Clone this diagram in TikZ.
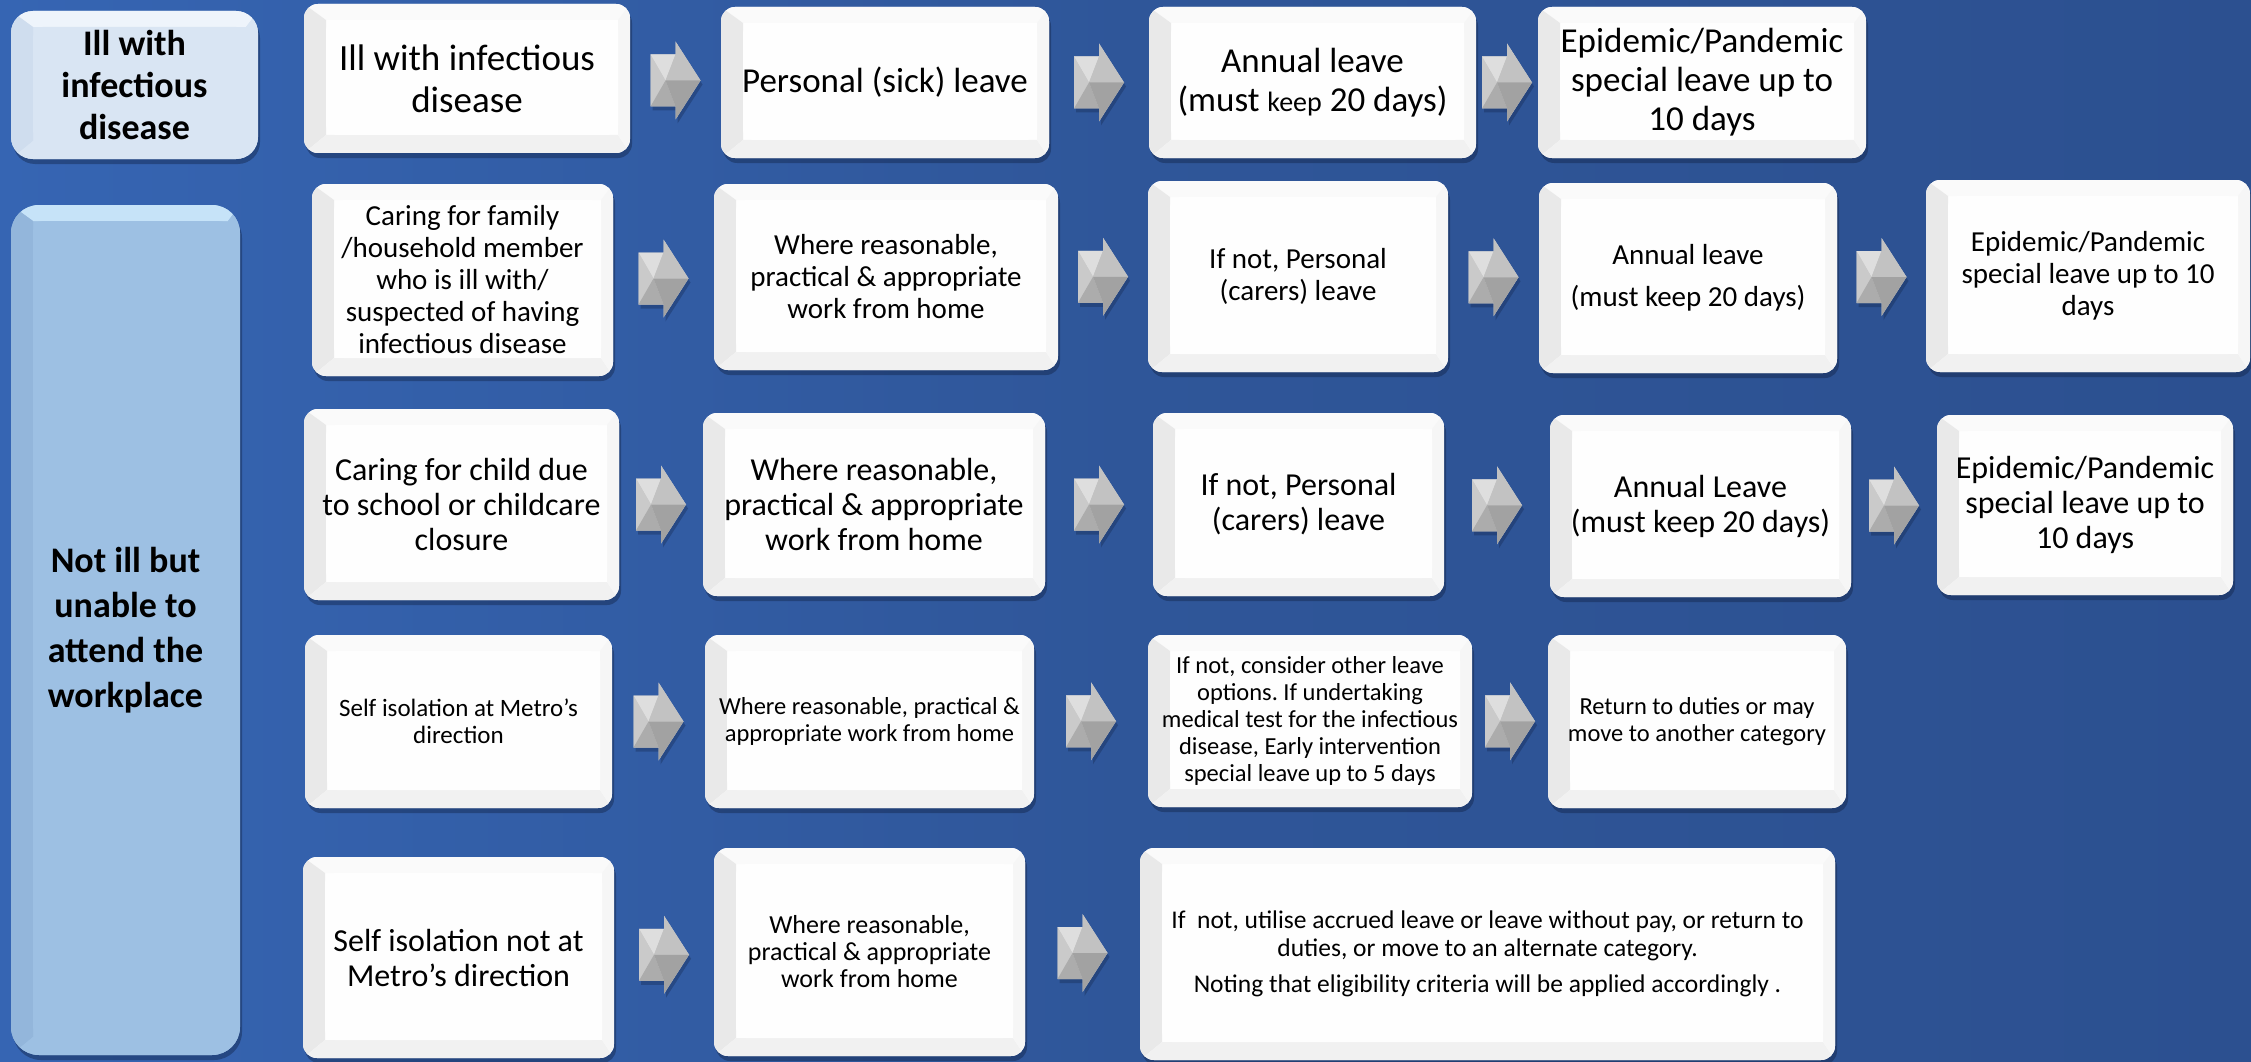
\documentclass[tikz,border=0pt]{standalone}
\usepackage{fontspec}
\setmainfont{Carlito}
\frenchspacing
\usetikzlibrary{shadows,calc}
\definecolor{bgL}{HTML}{3665B3}
\definecolor{bgM}{HTML}{2F5699}
\definecolor{bgR}{HTML}{2C5090}
\definecolor{shadowc}{HTML}{0F1F40}
\definecolor{fTop}{HTML}{FAFAFA}
\definecolor{fLeft}{HTML}{E9E9E9}
\definecolor{fBot}{HTML}{F1F1F1}
\definecolor{fIn}{HTML}{FEFEFE}
\definecolor{lOneIn}{HTML}{D9E5F3}
\definecolor{lOneTop}{HTML}{EEF4FB}
\definecolor{lOneLeft}{HTML}{CFDDEE}
\definecolor{lTwoIn}{HTML}{9DC0E3}
\definecolor{lTwoTop}{HTML}{C6E3F8}
\definecolor{lTwoLeft}{HTML}{93B6DB}
\definecolor{aLight}{HTML}{DEDEDE}
\definecolor{aMid}{HTML}{CACACA}
\definecolor{aMid2}{HTML}{C2C2C2}
\definecolor{aDark}{HTML}{ACACAC}
\definecolor{aDark2}{HTML}{A2A2A2}
\newcommand{\bevel}[4]{%
  \path (path picture bounding box.north west) coordinate (ppNW)
        (path picture bounding box.south east) coordinate (ppSE);
  \path (ppNW -| ppSE) coordinate (ppNE) (ppNW |- ppSE) coordinate (ppSW);
  \path ($(ppNW)+(22pt,-16pt)$) coordinate (iiNW) ($(ppSE)+(-12pt,18pt)$) coordinate (iiSE);
  \path (iiNW -| iiSE) coordinate (iiNE) (iiNW |- iiSE) coordinate (iiSW);
  \fill[sharp corners,#1] (ppNW) -- (ppNE) -- (iiNE) -- (iiNW) -- cycle;
  \fill[sharp corners,#2] (ppNW) -- (iiNW) -- (iiSW) -- (ppSW) -- cycle;
  \fill[sharp corners,#3] (ppSW) -- (iiSW) -- (iiSE) -- (ppSE) -- cycle;
  \fill[sharp corners,#3!60!#4] (ppNE) -- (ppSE) -- (iiSE) -- (iiNE) -- cycle;
  \fill[#4,rounded corners=10pt] (iiNW) rectangle (iiSE);
}
\tikzset{
  box/.style={rounded corners=14pt, fill=fIn, align=center, inner sep=0pt,
    drop shadow={shadow xshift=2pt, shadow yshift=-5pt, opacity=0.4, fill=shadowc},
    path picture={\bevel{fTop}{fLeft}{fBot}{fIn}}},
  labone/.style={rounded corners=22pt, fill=lOneIn, align=center, inner sep=0pt,
    font=\bfseries\fontsize{36}{42}\selectfont,
    drop shadow={shadow xshift=2pt, shadow yshift=-5pt, opacity=0.4, fill=shadowc},
    path picture={\bevel{lOneTop}{lOneLeft}{lOneIn}{lOneIn}}},
  labtwo/.style={rounded corners=28pt, fill=lTwoIn, align=center, inner sep=0pt,
    font=\bfseries\fontsize{36}{45}\selectfont,
    drop shadow={shadow xshift=2pt, shadow yshift=-5pt, opacity=0.4, fill=shadowc},
    path picture={\bevel{lTwoTop}{lTwoLeft}{lTwoIn}{lTwoIn}}},
  garrow/.pic={
    \fill[shadowc,opacity=0.3] (-23,-22) -- (2,-22) -- (2,-35) -- (27,4) -- (2,43) -- (2,30) -- (-23,30) -- cycle;
    \fill[aMid] (-25,-26) -- (0,-26) -- (0,-39) -- (25,0) -- (0,39) -- (0,26) -- (-25,26) -- cycle;
    \fill[aLight] (-25,-26) -- (0,-26) -- (-10,0) -- cycle;
    \fill[aMid] (-25,-26) -- (-10,0) -- (-25,26) -- cycle;
    \fill[aDark] (-25,26) -- (-10,0) -- (0,26) -- cycle;
    \fill[aMid2] (0,-39) -- (25,0) -- (-10,0) -- (0,-26) -- cycle;
    \fill[aDark2] (0,39) -- (25,0) -- (-10,0) -- (0,26) -- cycle;
  },
  fA/.style={font=\fontsize{37}{42}\selectfont},
  fB/.style={font=\fontsize{35}{39}\selectfont},
  fC/.style={font=\fontsize{29}{32}\selectfont},
  fD/.style={font=\fontsize{32}{35}\selectfont},
  fE/.style={font=\fontsize{24.5}{27}\selectfont},
  fF/.style={font=\fontsize{25.5}{28}\selectfont},
}
\begin{document}
\begin{tikzpicture}[x=1pt,y=-1pt]
\shade[left color=bgL, right color=bgR, middle color=bgM] (0,0) rectangle (2251,1062);
\useasboundingbox (0,0) rectangle (2251,1062);

% left labels
\node[labone, minimum width=247pt, minimum height=148pt] (l1) at (134.5,85) {Ill with\\infectious\\disease};
\node[labtwo, minimum width=229pt, minimum height=850pt] (l2) at (125.5,630) {Not ill but\\unable to\\attend the\\workplace};

% row 1
\node[box, fA, minimum width=326pt, minimum height=149pt] (b1a) at (467,78.5) {Ill with infectious\\disease};
\node[box, fB, minimum width=328pt, minimum height=151pt] (b1b) at (885,82.5) {Personal (sick) leave};
\node[box, fB, minimum width=327pt, minimum height=151pt] (b1c) at (1312.5,82.5) {Annual leave\\(must {\fontsize{28}{39}\selectfont keep} 20 days)};
\node[box, fB, minimum width=328pt, minimum height=151pt] (b1d) at (1702,82.5) {Epidemic/Pandemic\\special leave up to\\10 days};

% row 2
\node[box, fC, minimum width=301pt, minimum height=192pt] (b2a) at (462.5,280) {Caring for family\\/household member\\who is ill with/\\suspected of having\\infectious disease};
\node[box, fC, minimum width=344pt, minimum height=186pt] (b2b) at (886,277) {Where reasonable,\\practical \& appropriate\\work from home};
\node[box, fC, minimum width=300pt, minimum height=191pt] (b2c) at (1298,276.5) {If not, Personal\\(carers) leave};
\node[box, fC, minimum width=298pt, minimum height=190pt] (b2d) at (1688,278) {Annual leave\\[10pt](must keep 20 days)};
\node[box, fC, minimum width=324pt, minimum height=192pt] (b2e) at (2088,276) {Epidemic/Pandemic\\special leave up to 10\\days};

% row 3
\node[box, fD, minimum width=315pt, minimum height=191pt] (b3a) at (461.5,504.5) {Caring for child due\\to school or childcare\\closure};
\node[box, fD, minimum width=342pt, minimum height=183pt] (b3b) at (874,504.5) {Where reasonable,\\practical \& appropriate\\work from home};
\node[box, fD, minimum width=291pt, minimum height=183pt] (b3c) at (1298.5,504.5) {If not, Personal\\(carers) leave};
\node[box, fD, minimum width=301pt, minimum height=182pt] (b3d) at (1700.5,506) {Annual Leave\\(must keep 20 days)};
\node[box, fD, minimum width=296pt, minimum height=180pt] (b3e) at (2085,505) {Epidemic/Pandemic\\special leave up to\\10 days};

% row 4
\node[box, font=\fontsize{25}{27}\selectfont, minimum width=307pt, minimum height=173pt] (b4a) at (458.5,721.5) {Self isolation at Metro’s\\direction};
\node[box, fE, minimum width=329pt, minimum height=173pt] (b4b) at (869.5,721.5) {Where reasonable, practical \&\\appropriate work from home};
\node[box, fE, minimum width=324pt, minimum height=172pt] (b4c) at (1310,721) {If not, consider other leave\\options. If undertaking\\medical test for the infectious\\disease, Early intervention\\special leave up to 5 days};
\node[box, fE, minimum width=298pt, minimum height=173pt] (b4d) at (1697,721.5) {Return to duties or may\\move to another category};

% row 5
\node[box, fD, minimum width=311pt, minimum height=201pt] (b5a) at (458.5,957.5) {Self isolation not at\\Metro’s direction};
\node[box, font=\fontsize{26}{27}\selectfont, minimum width=311pt, minimum height=208pt] (b5b) at (869.5,952) {Where reasonable,\\practical \& appropriate\\work from home};
\node[box, fF, minimum width=695pt, minimum height=212pt] (b5c) at (1487.5,954) {If~ not, utilise accrued leave or leave without pay, or return to\\duties, or move to an alternate category.\\[8pt]Noting that eligibility criteria will be applied accordingly .};

% arrows
\foreach \a/\b in {b1a/b1b,b1b/b1c,b1c/b1d,
                   b2a/b2b,b2b/b2c,b2c/b2d,b2d/b2e,
                   b3a/b3b,b3b/b3c,b3c/b3d,b3d/b3e,
                   b4a/b4b,b4b/b4c,b4c/b4d,
                   b5a/b5b,b5b/b5c}
  \pic at ($(\a.east)!0.5!(\b.west)$) {garrow};
\end{tikzpicture}
\end{document}
